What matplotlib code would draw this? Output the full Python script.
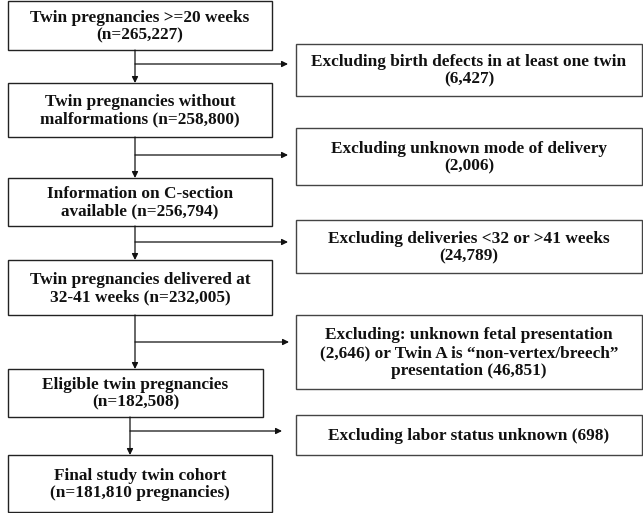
import matplotlib.pyplot as plt
from matplotlib.patches import Rectangle

plt.rcParams['font.family'] = ['Liberation Serif', 'DejaVu Serif']

# flow boxes (main cohort path)
main_labels = [
    'Twin pregnancies >=20 weeks\n(n=265,227)',
    'Twin pregnancies without\nmalformations (n=258,800)',
    'Information on C-section\navailable (n=256,794)',
    'Twin pregnancies delivered at\n32-41 weeks (n=232,005)',
    'Eligible twin pregnancies\n(n=182,508)',
    'Final study twin cohort\n(n=181,810 pregnancies)',
]
# exclusion boxes
excl_labels = [
    'Excluding birth defects in at least one twin\n(6,427)',
    'Excluding unknown mode of delivery\n(2,006)',
    'Excluding deliveries <32 or >41 weeks\n(24,789)',
    'Excluding: unknown fetal presentation\n(2,646) or Twin A is \u201cnon-vertex/breech\u201d\npresentation (46,851)',
    'Excluding labor status unknown (698)',
]

# layout in pixels (x0, x1, y0, y1)
main_boxes = [(8, 272, 1, 50), (8, 272, 83, 137), (8, 272, 178, 226),
              (8, 272, 260, 315), (8, 263, 369, 417), (8, 272, 455, 512)]
excl_boxes = [(296, 642, 44, 96), (296, 642, 128, 185), (296, 642, 220, 273),
              (296, 642, 315, 389), (296, 642, 415, 455)]
stem_x = [135, 135, 135, 135, 130]
branch_y = [64, 155, 242, 342, 431]
tip_x = [288, 288, 288, 289, 282]

fig = plt.figure(figsize=(6.43, 5.13), dpi=100)
ax = fig.add_axes([0, 0, 1, 1])
ax.set_xlim(0, 643)
ax.set_ylim(513, 0)
ax.axis('off')

def box(b, txt, ec):
    x0, x1, y0, y1 = b
    ax.add_patch(Rectangle((x0, y0), x1 - x0, y1 - y0, fill=False,
                           ec=ec, lw=1.0))
    ax.text((x0 + x1) / 2, (y0 + y1) / 2 + 1, txt, ha='center', va='center',
            fontsize=12.4, fontweight='bold', linespacing=1.14, color='#111')

for b, t in zip(main_boxes, main_labels):
    box(b, t, '#222')
for b, t in zip(excl_boxes, excl_labels):
    box(b, t, '#444')

arr = dict(arrowstyle='-|>', color='#111', lw=0.9, mutation_scale=9,
           shrinkA=0, shrinkB=0)
for i in range(5):
    x = stem_x[i]
    ax.annotate('', xy=(x, main_boxes[i + 1][2]), xytext=(x, main_boxes[i][3]),
                arrowprops=arr)
    ax.annotate('', xy=(tip_x[i], branch_y[i]), xytext=(x, branch_y[i]),
                arrowprops=arr)

fig.savefig('out.png', dpi=100)
